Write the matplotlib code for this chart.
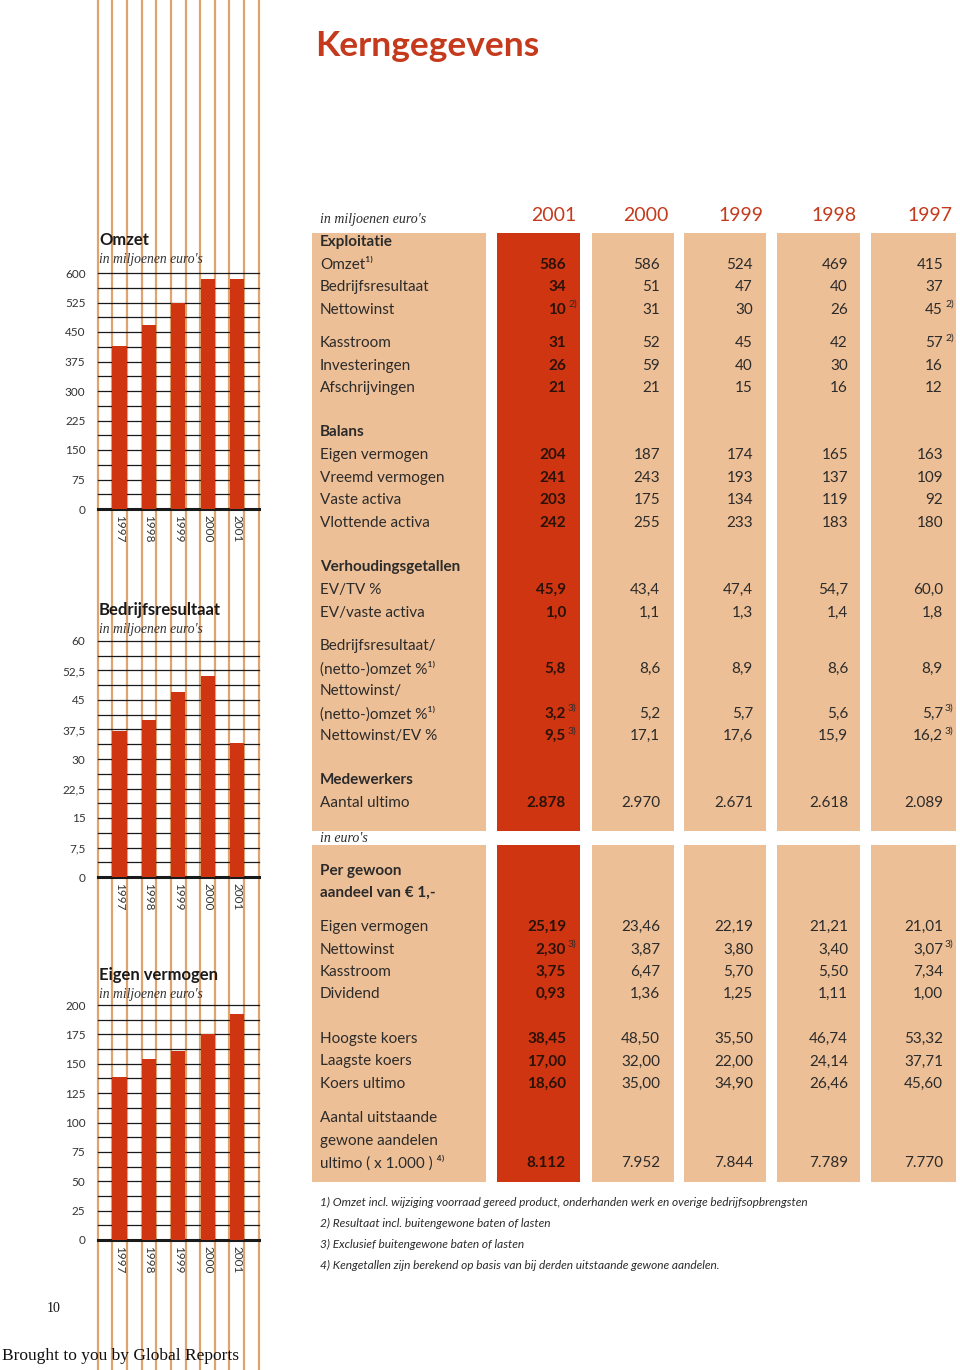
import numpy as np
import matplotlib
matplotlib.use('Agg')
import matplotlib.pyplot as plt
from matplotlib.patches import Rectangle

# chart data, in miljoenen euro's
chart_years = ['1997', '1998', '1999', '2000', '2001']
omzet = [415, 469, 524, 586, 586]
bedrijfsresultaat = [37, 40, 47, 51, 34]
eigen_vermogen = [139, 154, 161, 175, 192]

# key figures table; None = bold section header, [] = label line only
# "value|note" puts a footnote marker after the value
table_years = ['2001', '2000', '1999', '1998', '1997']
main_rows = [
    ('Exploitatie', None),
    ('Omzet¹⁾', ['586', '586', '524', '469', '415']),
    ('Bedrijfsresultaat', ['34', '51', '47', '40', '37']),
    ('Nettowinst', ['10|2)', '31', '30', '26', '45|2)']),
    ('Kasstroom', ['31', '52', '45', '42', '57|2)']),
    ('Investeringen', ['26', '59', '40', '30', '16']),
    ('Afschrijvingen', ['21', '21', '15', '16', '12']),
    ('Balans', None),
    ('Eigen vermogen', ['204', '187', '174', '165', '163']),
    ('Vreemd vermogen', ['241', '243', '193', '137', '109']),
    ('Vaste activa', ['203', '175', '134', '119', '92']),
    ('Vlottende activa', ['242', '255', '233', '183', '180']),
    ('Verhoudingsgetallen', None),
    ('EV/TV %', ['45,9', '43,4', '47,4', '54,7', '60,0']),
    ('EV/vaste activa', ['1,0', '1,1', '1,3', '1,4', '1,8']),
    ('Bedrijfsresultaat/', []),
    ('(netto-)omzet %¹⁾', ['5,8', '8,6', '8,9', '8,6', '8,9']),
    ('Nettowinst/', []),
    ('(netto-)omzet %¹⁾', ['3,2|3)', '5,2', '5,7', '5,6', '5,7|3)']),
    ('Nettowinst/EV %', ['9,5|3)', '17,1', '17,6', '15,9', '16,2|3)']),
    ('Medewerkers', None),
    ('Aantal ultimo', ['2.878', '2.970', '2.671', '2.618', '2.089']),
]
share_rows = [
    ('Per gewoon', None),
    ('aandeel van € 1,-', None),
    ('Eigen vermogen', ['25,19', '23,46', '22,19', '21,21', '21,01']),
    ('Nettowinst', ['2,30|3)', '3,87', '3,80', '3,40', '3,07|3)']),
    ('Kasstroom', ['3,75', '6,47', '5,70', '5,50', '7,34']),
    ('Dividend', ['0,93', '1,36', '1,25', '1,11', '1,00']),
    ('Hoogste koers', ['38,45', '48,50', '35,50', '46,74', '53,32']),
    ('Laagste koers', ['17,00', '32,00', '22,00', '24,14', '37,71']),
    ('Koers ultimo', ['18,60', '35,00', '34,90', '26,46', '45,60']),
    ('Aantal uitstaande', []),
    ('gewone aandelen', []),
    ('ultimo ( x 1.000 ) ⁴⁾', ['8.112', '7.952', '7.844', '7.789', '7.770']),
]
footnotes = [
    '1) Omzet incl. wijziging voorraad gereed product, onderhanden werk en overige bedrijfsopbrengsten',
    '2) Resultaat incl. buitengewone baten of lasten',
    '3) Exclusief buitengewone baten of lasten',
    '4) Kengetallen zijn berekend op basis van bij derden uitstaande gewone aandelen.',
]

# layout (pixels)
W, H = 960, 1370
main_y = [242, 264.5, 287, 309.5, 343, 365.5, 388, 432, 455, 477.5, 500, 522.5,
          567, 590, 612.5, 646, 668.5, 691, 713.5, 736, 780, 803]
share_y = [871, 893, 927, 949.5, 972, 994, 1039, 1061.5, 1084, 1118, 1140.5, 1163]
col_blocks = [(497, 580), (592, 674), (684, 766), (777, 860), (871, 956)]
val_right = [566, 660, 753, 848, 943]
year_right = [576, 669, 763, 857, 952]

ORANGE = '#DFA36E'
PEACH = '#EDBF96'
RED = '#CF3511'
TITLE_RED = '#C53A1C'
INK = '#2b2b2b'
SERIF = ['Liberation Serif', 'DejaVu Serif']

plt.rcParams['font.family'] = ['Lato', 'DejaVu Sans']

fig = plt.figure(figsize=(9.6, 13.7), dpi=100)
bg = fig.add_axes([0, 0, 1, 1])
bg.set_xlim(0, W)
bg.set_ylim(H, 0)
bg.axis('off')

# orange rules down the left side
bg.vlines(np.linspace(97.7, 258.7, 12), 0, H, color=ORANGE, lw=1.6, zorder=1)

bg.text(315, 46, 'Kerngegevens', color=TITLE_RED, fontsize=25.5, fontweight='bold', va='center')


def bar_panel(y_top, y_bot, values, tick_step, title, title_y):
    ax = fig.add_axes([98 / W, 1 - y_bot / H, 161 / W, (y_bot - y_top) / H])
    ax.patch.set_alpha(0)
    top = tick_step * 8
    for v in np.arange(0, top + tick_step / 4, tick_step / 2):
        ax.axhline(v, color='#1a1a1a', lw=2.2 if v == 0 else 0.9, zorder=2, clip_on=False)
    ax.bar(range(len(values)), values, width=0.48, color=RED, zorder=3)
    ax.set_xlim(-0.73, 4.745)
    ax.set_ylim(0, top)
    ticks = np.arange(0, top + tick_step / 2, tick_step)
    ax.set_yticks(ticks)
    ax.set_yticklabels([f'{t:g}'.replace('.', ',') for t in ticks])
    ax.set_xticks(range(len(values)))
    ax.set_xticklabels(chart_years, rotation=270, va='top', ha='center')
    ax.tick_params(length=0, labelsize=8.5, labelcolor='#333333')
    ax.tick_params(axis='y', pad=9)
    ax.tick_params(axis='x', pad=4)
    for s in ax.spines.values():
        s.set_visible(False)
    bg.text(99, title_y, title, fontsize=12, fontweight='bold', color='#1a1a1a', va='center')
    bg.text(99, title_y + 19, "in miljoenen euro's", fontsize=9.8, style='italic',
            family=SERIF, color='#333333', va='center')


bar_panel(273, 509, omzet, 75, 'Omzet', 240)
bar_panel(641, 877, bedrijfsresultaat, 7.5, 'Bedrijfsresultaat', 610)
bar_panel(1005, 1240, eigen_vermogen, 25, 'Eigen vermogen', 975)

# table background blocks
for y0, y1 in [(233, 831), (845, 1182)]:
    bg.add_patch(Rectangle((312, y0), 174, y1 - y0, color=PEACH, lw=0, zorder=1))
    for i, (x0, x1) in enumerate(col_blocks):
        bg.add_patch(Rectangle((x0, y0), x1 - x0, y1 - y0, color=RED if i == 0 else PEACH,
                               lw=0, zorder=1))

bg.text(320, 219, "in miljoenen euro's", fontsize=10, style='italic', family=SERIF,
        color=INK, va='center')
for yr, xr in zip(table_years, year_right):
    bg.text(xr, 215, yr, fontsize=14, color=TITLE_RED, ha='right', va='center')


def draw_rows(rows, ys):
    for (label, vals), y in zip(rows, ys):
        bold = vals is None
        bg.text(320, y, label, fontsize=11, fontweight='bold' if bold else 'normal',
                color=INK, va='center', zorder=3)
        for i, v in enumerate(vals or []):
            num, _, note = v.partition('|')
            bg.text(val_right[i], y, num, fontsize=11, ha='right', va='center', zorder=3,
                    fontweight='bold' if i == 0 else 'normal',
                    color='#2a1208' if i == 0 else INK)
            if note:
                bg.text(val_right[i] + 2, y - 5, note, fontsize=7.5, ha='left', va='center',
                        color=INK, zorder=3)


draw_rows(main_rows, main_y)
bg.text(320, 838, "in euro's", fontsize=10, style='italic', family=SERIF, color=INK, va='center')
draw_rows(share_rows, share_y)

for k, note in enumerate(footnotes):
    bg.text(320, 1202 + 21 * k, note, fontsize=8.6, style='italic', color=INK, va='center')

bg.text(47, 1309, '10', fontsize=10, family=SERIF, color='#111111', va='center')
bg.text(2, 1356, 'Brought to you by Global Reports', fontsize=12.5, family=SERIF,
        color='#111111', va='center', zorder=3)

fig.savefig('out.png', dpi=100)
